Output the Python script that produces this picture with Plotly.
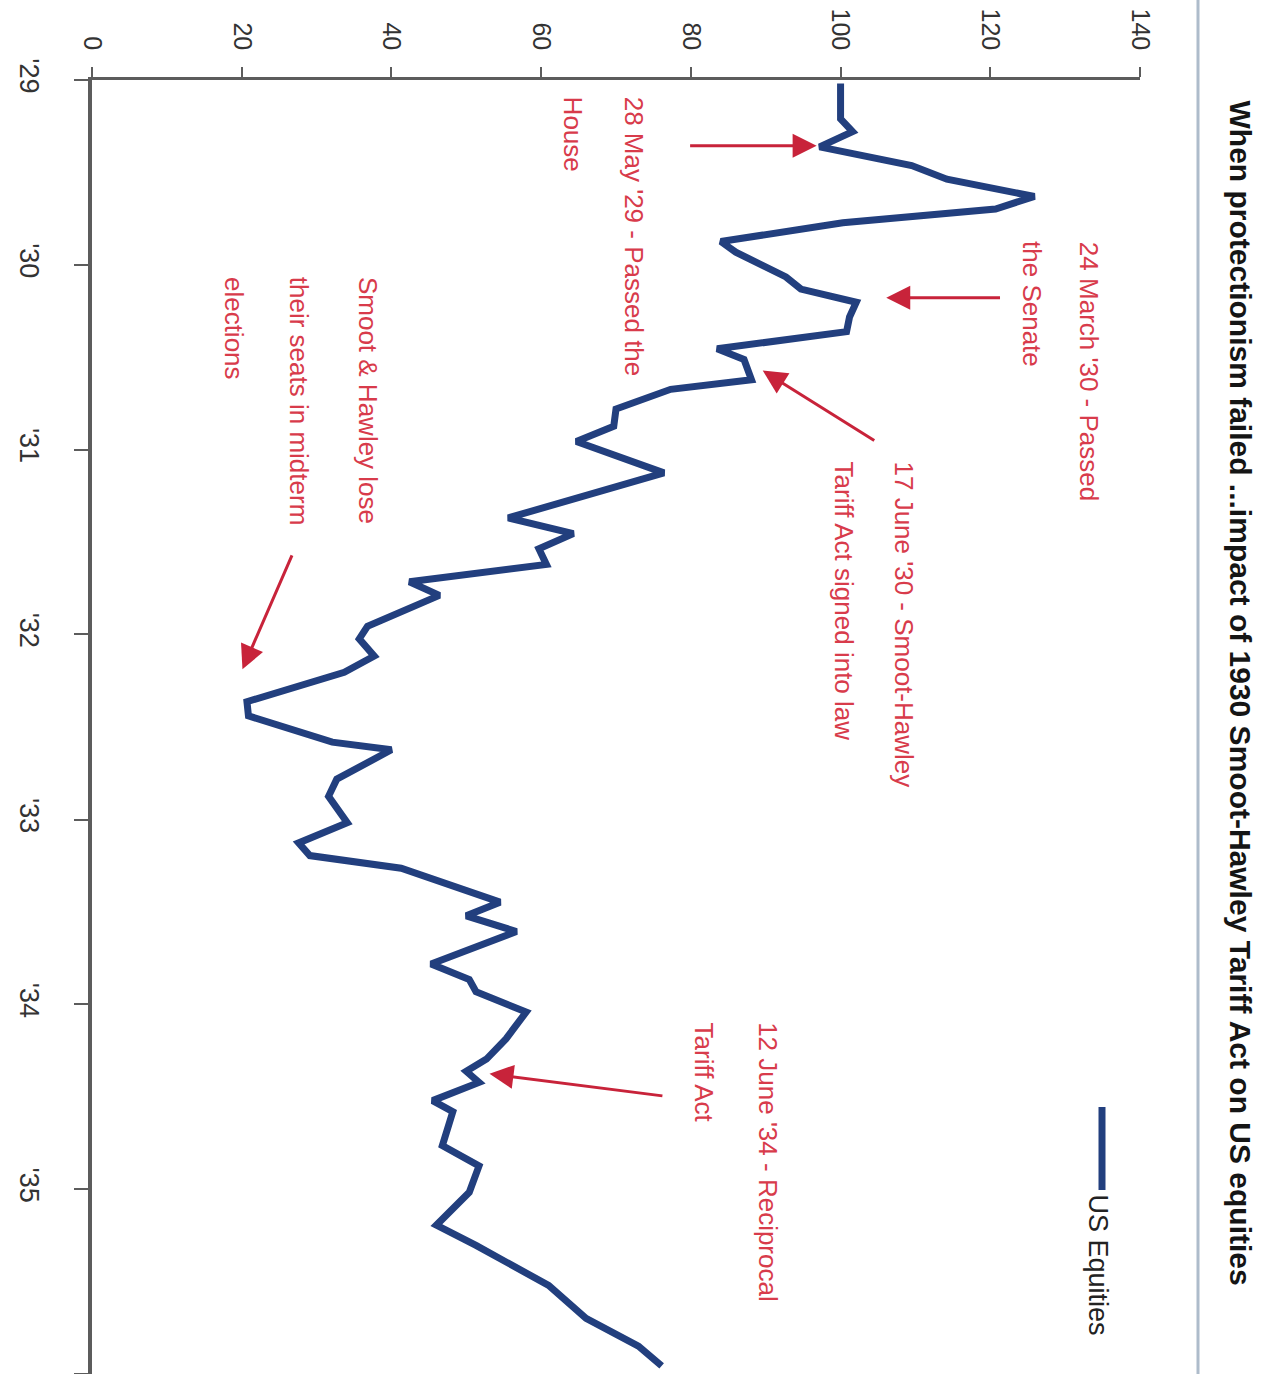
import plotly.graph_objects as go

# ---------------- data ----------------
series_name = "US Equities"
dates = ["1929-01-08", "1929-03-19", "1929-04-13", "1929-05-13", "1929-06-19", "1929-07-16",
         "1929-08-19", "1929-09-13", "1929-10-10", "1929-11-16", "1929-12-07",
         "1930-01-25", "1930-02-18", "1930-03-16", "1930-04-14", "1930-05-13", "1930-06-16",
         "1930-07-07", "1930-08-16", "1930-09-04", "1930-10-13", "1930-11-16", "1930-12-16",
         "1931-01-19", "1931-02-16", "1931-05-16", "1931-06-16", "1931-07-16", "1931-08-16",
         "1931-09-19", "1931-10-16", "1931-12-16",
         "1932-01-10", "1932-02-13", "1932-03-16", "1932-05-13", "1932-06-10", "1932-08-01",
         "1932-08-16", "1932-10-13", "1932-11-16",
         "1933-01-07", "1933-02-16", "1933-03-13", "1933-04-07", "1933-06-13", "1933-07-10",
         "1933-08-10", "1933-10-13", "1933-11-13", "1933-12-07",
         "1934-01-16", "1934-03-10", "1934-04-19", "1934-05-13", "1934-06-04", "1934-07-10",
         "1934-08-01", "1934-10-07", "1934-11-16",
         "1935-01-07", "1935-03-13", "1935-04-22", "1935-07-10", "1935-09-13", "1935-11-07",
         "1935-12-16"]
values = [100, 100, 101.6, 97.2, 109.5, 114.2, 125.9, 120.7, 100.3, 84, 86,
          92.7, 94.7, 102.1, 101.2, 100.8, 83.5, 87.1, 88.1, 77.3, 70, 69.7, 64.7,
          71.2, 76.4, 55.6, 64.3, 59.7, 60.7, 42.4, 46.4, 36.8,
          35.7, 37.7, 33.7, 20.7, 20.9, 32.1, 40, 32.7, 31.6,
          34.1, 27.6, 29.1, 41.3, 54.5, 50, 56.7, 45.3, 50.4, 51.3,
          58, 55.3, 52.7, 50, 51.7, 45.5, 48.2, 46.8, 51.7,
          50.4, 46, 51.3, 61, 66, 73, 76.1]

value_ticks = [0, 20, 40, 60, 80, 100, 120, 140]
year_tickvals = ["1929-01-01", "1930-01-01", "1931-01-01", "1932-01-01", "1933-01-01",
                 "1934-01-01", "1935-01-01", "1936-01-01"]
year_ticktext = ["'29", "'30", "'31", "'32", "'33", "'34", "'35", ""]

title_text = "When protectionism failed ...impact of 1930 Smoot-Hawley Tariff Act on US equities"

# annotation text lines: (lines, start date, [x centre value per line])
notes = [
    (["28 May '29 - Passed the", "House"], "1929-01-30", [72.4, 64.2]),
    (["24 March '30 - Passed", "the Senate"], "1929-11-12", [133.2, 125.5]),
    (["17 June '30 - Smoot-Hawley", "Tariff Act signed into law"], "1931-01-21", [108.5, 100.4]),
    (["Smoot & Hawley lose", "their seats in midterm", "elections"], "1930-01-21", [36.8, 27.6, 18.9]),
    (["12 June '34 - Reciprocal", "Tariff Act"], "1934-02-01", [90.3, 81.7]),
]
# arrows: (head value, head date, tail value, tail date)
arrows = [
    (96.8, "1929-05-11", 79.7, "1929-05-11"),
    (106.1, "1930-03-07", 121.5, "1930-03-07"),
    (89.6, "1930-07-29", 104.7, "1930-12-16"),
    (20.1, "1932-03-10", 26.8, "1931-07-26"),
    (53.1, "1934-05-18", 76.4, "1934-07-01"),
]

# ---------------- style ----------------
W, H = 1276, 1374
ML, MR, MT, MB = 92, 136, 80, 0
FONT = "Liberation Sans, Arial, sans-serif"
LINE_COLOR = "#223f7e"
RED_TEXT = "#d83b4b"
RED_ARROW = "#c8233a"
AXIS_COLOR = "#5c5c5c"


def paper_x(px):
    return (px - ML) / (W - ML - MR)


def paper_y(py):
    return (H - MB - py) / (H - MT - MB)


fig = go.Figure()
fig.add_trace(go.Scatter(
    x=values, y=dates, mode="lines", name=series_name,
    line=dict(color=LINE_COLOR, width=7), showlegend=False,
))

annotations = []
for lines, start, xs in notes:
    for txt, xv in zip(lines, xs):
        annotations.append(dict(
            x=xv, y=start, xref="x", yref="y", text=txt, showarrow=False,
            textangle=90, xanchor="center", yanchor="top",
            font=dict(family=FONT, size=26, color=RED_TEXT),
        ))
for hx, hy, tx, ty in arrows:
    annotations.append(dict(
        x=hx, y=hy, ax=tx, ay=ty, xref="x", yref="y", axref="x", ayref="y",
        text="", showarrow=True, arrowhead=2, arrowsize=1.6, arrowwidth=3,
        arrowcolor=RED_ARROW, standoff=0, startstandoff=0,
    ))
# title (rotated)
annotations.append(dict(
    x=paper_x(1240), y=paper_y(98), xref="paper", yref="paper", text="<b>" + title_text + "</b>",
    showarrow=False, textangle=90, xanchor="center", yanchor="top",
    font=dict(family=FONT, size=30, color="#151515"),
))
# legend label
annotations.append(dict(
    x=paper_x(1098), y=paper_y(1192), xref="paper", yref="paper", text=series_name,
    showarrow=False, textangle=90, xanchor="center", yanchor="top",
    font=dict(family=FONT, size=27, color="#222222"),
))

shapes = [
    # legend swatch
    dict(type="line", xref="paper", yref="paper", x0=paper_x(1102), x1=paper_x(1102),
         y0=paper_y(1107), y1=paper_y(1190), line=dict(color=LINE_COLOR, width=7)),
    # separator rule at right
    dict(type="line", xref="paper", yref="paper", x0=paper_x(1198), x1=paper_x(1198),
         y0=0, y1=paper_y(0), line=dict(color="#aebccb", width=3)),
]

fig.update_layout(
    width=W, height=H, margin=dict(l=ML, r=MR, t=MT, b=MB, pad=0),
    paper_bgcolor="white", plot_bgcolor="white",
    annotations=annotations, shapes=shapes,
    xaxis=dict(
        range=[0, 140], side="top", tickvals=value_ticks, tickangle=90,
        ticks="outside", ticklen=10, tickwidth=2, tickcolor=AXIS_COLOR,
        showline=True, linecolor=AXIS_COLOR, linewidth=3, showgrid=False, zeroline=False,
        tickfont=dict(family=FONT, size=25, color="#333333"), ticklabelstandoff=8,
    ),
    yaxis=dict(
        type="date", range=["1936-01-01", "1929-01-01"], tickvals=year_tickvals,
        ticktext=year_ticktext, tickangle=90, ticks="outside", ticklen=14, tickwidth=2,
        tickcolor=AXIS_COLOR, showline=True, linecolor=AXIS_COLOR, linewidth=4,
        showgrid=False, zeroline=False,
        tickfont=dict(family=FONT, size=27, color="#333333"), ticklabelstandoff=22,
    ),
)

fig.write_html("out.html")
